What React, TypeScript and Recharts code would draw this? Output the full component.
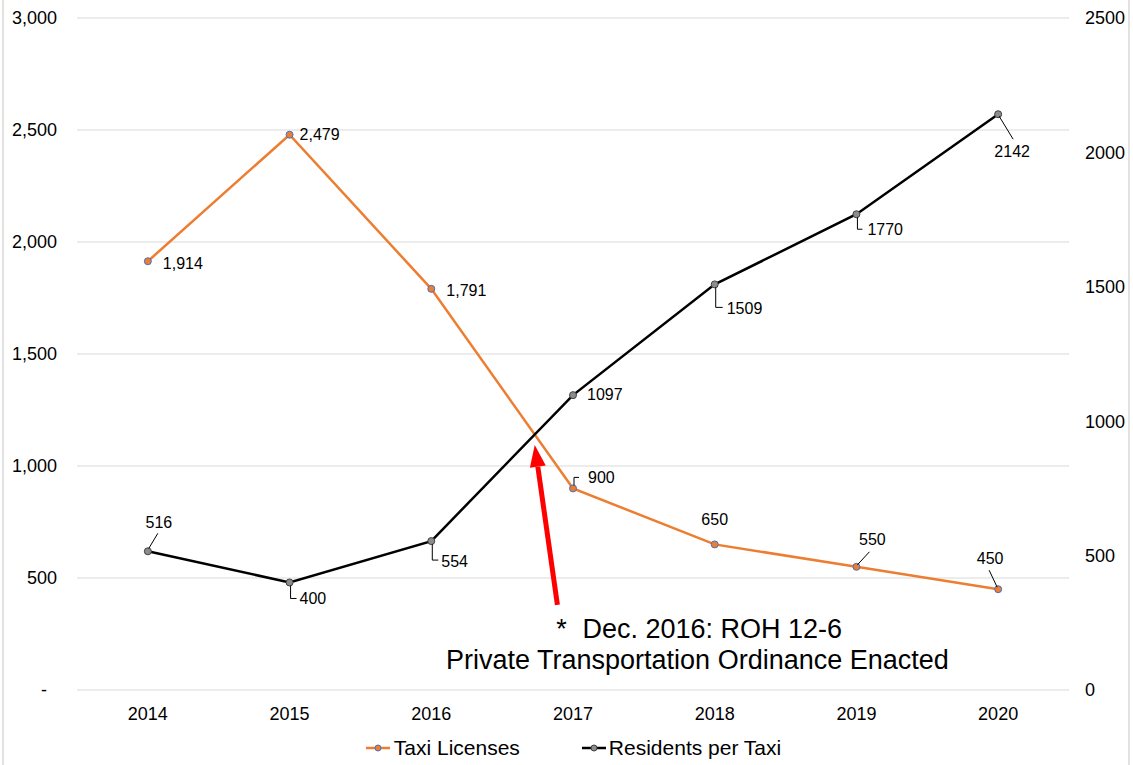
import React from "react";
import {
  LineChart,
  Line,
  XAxis,
  YAxis,
  CartesianGrid,
  Legend,
  LabelList,
  ReferenceLine,
} from "recharts";

const years = [2014, 2015, 2016, 2017, 2018, 2019, 2020];
const taxiLicenses = [1914, 2479, 1791, 900, 650, 550, 450];
const residentsPerTaxi = [516, 400, 554, 1097, 1509, 1770, 2142];
const leftTicks = [0, 500, 1000, 1500, 2000, 2500, 3000];
const rightTicks = [0, 500, 1000, 1500, 2000, 2500];

// arrow from the note up to the crossing, in chart units (year, left axis value)
const arrowFrom = { year: 2016.89, value: 380 };
const arrowTo = { year: 2016.73, value: 1094 };
const noteLines = ["Dec. 2016: ROH 12-6", "Private Transportation Ordinance Enacted"];

const ORANGE = "#ED7D31";
const FONT = '"Liberation Sans", Arial, Helvetica, sans-serif';

type LabelPos = {
  dx: number;
  dy: number;
  anchor: "start" | "middle" | "end";
  leader?: number[][];
};

// label placement (offsets from each point), same order as years
const taxiLabelPos: LabelPos[] = [
  { dx: 15, dy: 2, anchor: "start" },
  { dx: 10, dy: 0, anchor: "start" },
  { dx: 15, dy: 1, anchor: "start" },
  { dx: 15, dy: -11, anchor: "start", leader: [[1, -3], [1, -11], [6, -11]] },
  { dx: 0, dy: -25, anchor: "middle" },
  { dx: 16, dy: -28, anchor: "middle", leader: [[1, -2], [13, -15]] },
  { dx: -8, dy: -31, anchor: "middle", leader: [[-1, -2], [-9, -19]] },
];

const residentLabelPos: LabelPos[] = [
  { dx: 11, dy: -29, anchor: "middle", leader: [[1, -3], [10, -18]] },
  { dx: 10, dy: 16, anchor: "start", leader: [[1, 3], [1, 16], [7, 16]] },
  { dx: 10, dy: 20, anchor: "start", leader: [[1, 3], [1, 19], [7, 19]] },
  { dx: 14, dy: -1, anchor: "start" },
  { dx: 12, dy: 24, anchor: "start", leader: [[1, 3], [1, 23], [8, 23]] },
  { dx: 11, dy: 15, anchor: "start", leader: [[1, 3], [1, 15], [6, 15]] },
  { dx: 14, dy: 37, anchor: "middle", leader: [[1, 2], [15, 25]] },
];

const data = years.map((year, i) => ({
  year,
  taxi: taxiLicenses[i],
  residents: residentsPerTaxi[i],
}));

function makeLabel(values: number[], layout: LabelPos[], withComma: boolean) {
  return (props: any) => {
    const { x, y, value } = props;
    let idx = props.index;
    if (idx === undefined || idx === null) idx = values.indexOf(Number(value));
    const pos = layout[idx];
    if (!pos || x == null || y == null) return null;
    const text = withComma ? Number(value).toLocaleString("en-US") : String(value);
    return (
      <g>
        {pos.leader && (
          <polyline
            points={pos.leader.map((p) => `${x + p[0]},${y + p[1]}`).join(" ")}
            fill="none"
            stroke="#000"
            strokeWidth={1}
          />
        )}
        <text
          x={x + pos.dx}
          y={y + pos.dy}
          dy="0.36em"
          textAnchor={pos.anchor}
          fontSize={16}
          fill="#000"
          fontFamily={FONT}
        >
          {text}
        </text>
      </g>
    );
  };
}

function ArrowNote(props: any) {
  const { x1, y1, x2, y2 } = props;
  const ang = Math.atan2(y2 - y1, x2 - x1);
  const headLen = 22;
  const headHalf = 8;
  const bx = x2 - headLen * Math.cos(ang);
  const by = y2 - headLen * Math.sin(ang);
  const px = -Math.sin(ang);
  const py = Math.cos(ang);
  return (
    <g>
      <line x1={x1} y1={y1} x2={bx} y2={by} stroke="#FF0000" strokeWidth={5} />
      <polygon
        points={`${x2},${y2} ${bx + px * headHalf},${by + py * headHalf} ${bx - px * headHalf},${by - py * headHalf}`}
        fill="#FF0000"
      />
      <text x={x1 + 4} y={y1 + 33} textAnchor="middle" fontSize={27} fill="#000" fontFamily={FONT}>
        *
      </text>
      <text x={x1 + 25} y={y1 + 33} fontSize={27} fill="#000" fontFamily={FONT}>
        {noteLines[0]}
      </text>
      <text x={x1 + 140} y={y1 + 64} textAnchor="middle" fontSize={27} fill="#000" fontFamily={FONT}>
        {noteLines[1]}
      </text>
    </g>
  );
}

function LeftTick(props: any) {
  const { x, y, payload } = props;
  const v = payload.value;
  return (
    <text
      x={v === 0 ? x - 10 : x}
      y={y}
      dy="0.36em"
      textAnchor="end"
      fontSize={18}
      fill="#000"
      fontFamily={FONT}
    >
      {v === 0 ? "-" : v.toLocaleString("en-US")}
    </text>
  );
}

function LegendIcon({ color, dotFill, dotStroke }: { color: string; dotFill: string; dotStroke: string }) {
  return (
    <svg width={24} height={10} style={{ display: "block" }}>
      <line x1={0} y1={5} x2={24} y2={5} stroke={color} strokeWidth={2.5} />
      <circle cx={12} cy={5} r={3} fill={dotFill} stroke={dotStroke} strokeWidth={1} />
    </svg>
  );
}

function ChartLegend() {
  return (
    <div
      style={{
        height: 35,
        display: "flex",
        justifyContent: "center",
        alignItems: "center",
        paddingLeft: 14,
        fontSize: 21,
        color: "#000",
        fontFamily: FONT,
      }}
    >
      <div style={{ display: "flex", alignItems: "center", marginRight: 62 }}>
        <LegendIcon color={ORANGE} dotFill={ORANGE} dotStroke="#4472C4" />
        <span style={{ marginLeft: 4 }}>Taxi Licenses</span>
      </div>
      <div style={{ display: "flex", alignItems: "center" }}>
        <LegendIcon color="#000" dotFill="#8c8c8c" dotStroke="#404040" />
        <span style={{ marginLeft: 3 }}>Residents per Taxi</span>
      </div>
    </div>
  );
}

export default function App() {
  return (
    <div
      style={{
        position: "absolute",
        left: 0,
        top: 0,
        width: 1133,
        height: 765,
        background: "#fff",
        fontFamily: FONT,
      }}
    >
      <div
        style={{
          position: "absolute",
          left: 2,
          top: 0,
          width: 1124,
          height: 765,
          borderLeft: "2px solid #e2e2e2",
          borderRight: "2px solid #e2e2e2",
          pointerEvents: "none",
        }}
      />
      <LineChart
        width={1133}
        height={765}
        data={data}
        margin={{ top: 18, right: 0, left: 0, bottom: 0 }}
      >
        <CartesianGrid vertical={false} stroke="#d9d9d9" yAxisId="left" />
        <XAxis
          dataKey="year"
          type="number"
          domain={[2013.5, 2020.5]}
          ticks={years}
          tickFormatter={(v) => String(v)}
          tickLine={false}
          axisLine={false}
          tickMargin={11}
          height={40}
          tick={{ fontSize: 18, fill: "#000" }}
        />
        <YAxis
          yAxisId="left"
          domain={[0, 3000]}
          ticks={leftTicks}
          width={77}
          tickLine={false}
          axisLine={false}
          tickMargin={14}
          tick={<LeftTick />}
        />
        <YAxis
          yAxisId="right"
          orientation="right"
          domain={[0, 2500]}
          ticks={rightTicks}
          width={64}
          tickLine={false}
          axisLine={false}
          tickMargin={10}
          tick={{ fontSize: 18, fill: "#000", textAnchor: "start" }}
        />
        <Legend verticalAlign="bottom" content={() => <ChartLegend />} />
        <Line
          yAxisId="left"
          dataKey="taxi"
          name="Taxi Licenses"
          type="linear"
          stroke={ORANGE}
          strokeWidth={2.5}
          dot={{ r: 3.5, fill: ORANGE, stroke: "#4472C4", strokeWidth: 1 }}
          isAnimationActive={false}
        >
          <LabelList dataKey="taxi" content={makeLabel(taxiLicenses, taxiLabelPos, true)} />
        </Line>
        <Line
          yAxisId="right"
          dataKey="residents"
          name="Residents per Taxi"
          type="linear"
          stroke="#000"
          strokeWidth={2.5}
          dot={{ r: 3.5, fill: "#8c8c8c", stroke: "#404040", strokeWidth: 1 }}
          isAnimationActive={false}
        >
          <LabelList dataKey="residents" content={makeLabel(residentsPerTaxi, residentLabelPos, false)} />
        </Line>
        <ReferenceLine
          yAxisId="left"
          segment={[
            { x: arrowFrom.year, y: arrowFrom.value },
            { x: arrowTo.year, y: arrowTo.value },
          ]}
          shape={ArrowNote}
        />
      </LineChart>
    </div>
  );
}
